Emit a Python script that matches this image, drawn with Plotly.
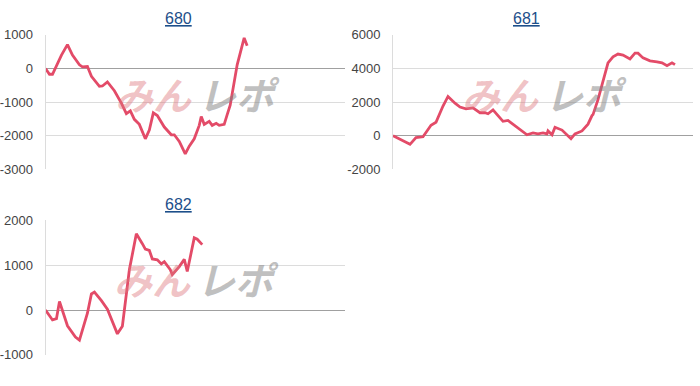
import plotly.graph_objects as go

W, H = 700, 386

# ---- data (x = play progress, y = difference) ----
titles = ["680", "681", "682"]

x680 = [0, 4, 7, 16, 22, 27, 34, 37, 42, 46, 54, 57, 62, 69, 76, 81, 85, 89, 94, 100, 104,
        108, 112, 119, 126, 129, 134, 140, 144, 149, 154, 156, 159, 164, 167, 171, 174, 179,
        182, 185, 192, 199, 202]
y680 = [0, -170, -170, 400, 710, 400, 110, 50, 60, -230, -530, -520, -400, -660, -1030, -1340,
        -1260, -1510, -1660, -2090, -1830, -1320, -1400, -1740, -1970, -1970, -2170, -2540,
        -2310, -2090, -1690, -1430, -1660, -1570, -1690, -1630, -1690, -1660, -1370, -1090,
        110, 910, 680]

x681 = [0, 8, 17, 23, 30, 38, 43, 50, 55, 62, 67, 73, 80, 87, 92, 95, 100, 105, 110, 115, 120,
        127, 134, 140, 145, 150, 154, 155, 159, 162, 169, 178, 182, 189, 195, 199, 200, 205,
        210, 215, 220, 225, 230, 237, 242, 245, 250, 257, 264, 269, 274, 279, 282]
y681 = [0, -230, -510, -110, -60, 630, 800, 1770, 2340, 1940, 1710, 1600, 1660, 1370, 1370,
        1310, 1540, 1200, 860, 910, 690, 400, 60, 170, 110, 170, 110, 290, 60, 510, 340, -170,
        110, 290, 690, 1200, 1260, 2150, 3200, 4340, 4690, 4860, 4800, 4570, 4910, 4910, 4630,
        4460, 4400, 4340, 4170, 4340, 4230]

x682 = [0, 7, 11, 14, 22, 30, 34, 42, 46, 49, 56, 62, 72, 77, 84, 89, 91, 97, 100, 104, 107,
        112, 116, 119, 125, 127, 131, 134, 139, 142, 149, 152, 157]
y682 = [0, -220, -190, 190, -350, -600, -670, -70, 360, 400, 210, 20, -530, -360, 900, 1500,
        1700, 1480, 1360, 1330, 1140, 1120, 1030, 1080, 900, 790, 880, 970, 1130, 860, 1610,
        1580, 1460]

yranges = [[-3000, 1000], [-2000, 6000], [-1000, 2000]]
ytick_step = [1000, 2000, 1000]
xmax = 300

# panel boxes in pixels: left, right, top, bottom ; title centre x
boxes = [(45.5, 345, 29, 169), (393, 693, 29, 169), (45.5, 345, 222, 362)]
title_cx = [178, 526, 178]
logo_dy = [-9, -9, -10]

LINE = "#e34b68"
GRID = "#dcdcdc"
ZERO = "#a0a0a0"
TXT = "#444444"
TITLE = "#1d4f8a"

fig = go.Figure()
series = [(x680, y680), (x681, y681), (x682, y682)]

for i, ((xs, ys), (l, r, t, b)) in enumerate(zip(series, boxes)):
    n = "" if i == 0 else str(i + 1)
    fig.add_trace(go.Scatter(x=xs, y=ys, mode="lines", xaxis="x" + n, yaxis="y" + n,
                             line=dict(color=LINE, width=2.8), hoverinfo="skip",
                             showlegend=False))
    lo, hi = yranges[i]
    step = ytick_step[i]
    tv = list(range(lo, hi + 1, step))
    fig.layout["xaxis" + n] = dict(domain=[l / W, r / W], range=[0, xmax], showgrid=False,
                                   zeroline=False, showticklabels=False, showline=False,
                                   anchor="y" + n, fixedrange=True)
    fig.layout["yaxis" + n] = dict(domain=[1 - b / H, 1 - t / H], range=[lo, hi],
                                   tickvals=tv, ticktext=[str(v) for v in tv],
                                   showgrid=True, gridcolor=GRID, gridwidth=1,
                                   zeroline=True, zerolinecolor=ZERO, zerolinewidth=1,
                                   showline=True, linecolor=GRID, linewidth=1,
                                   ticks="", ticklabelstandoff=9,
                                   tickfont=dict(family="Liberation Sans, Arial", size=13, color=TXT),
                                   anchor="x" + n, fixedrange=True)
    # title
    fig.add_annotation(x=title_cx[i] / W, y=1 - (t - 17) / H, xref="paper", yref="paper",
                       text="<u>" + titles[i] + "</u>", showarrow=False,
                       font=dict(family="Liberation Sans, Arial", size=16, color=TITLE),
                       xanchor="center", yanchor="middle")
    # watermark
    cx = (l + r) / 2 + (1 if i == 0 else 0)
    cy = (t + b) / 2 + logo_dy[i]
    fig.add_annotation(x=(cx - 43) / W, y=1 - cy / H, xref="paper", yref="paper",
                       text="<b><i>みん</i></b>", showarrow=False,
                       font=dict(family="Noto Sans CJK JP", size=38, weight=900,
                                 color="rgba(222,120,125,0.45)"),
                       xanchor="center", yanchor="middle")
    fig.add_annotation(x=(cx + 43) / W, y=1 - cy / H, xref="paper", yref="paper",
                       text="<b><i>レポ</i></b>", showarrow=False,
                       font=dict(family="Noto Sans CJK JP", size=38, weight=900,
                                 color="rgba(130,130,130,0.5)"),
                       xanchor="center", yanchor="middle")

fig.update_layout(width=W, height=H, margin=dict(l=0, r=0, t=0, b=0),
                  paper_bgcolor="white", plot_bgcolor="white",
                  font=dict(family="Liberation Sans, Arial"))

fig.write_html("out.html")
